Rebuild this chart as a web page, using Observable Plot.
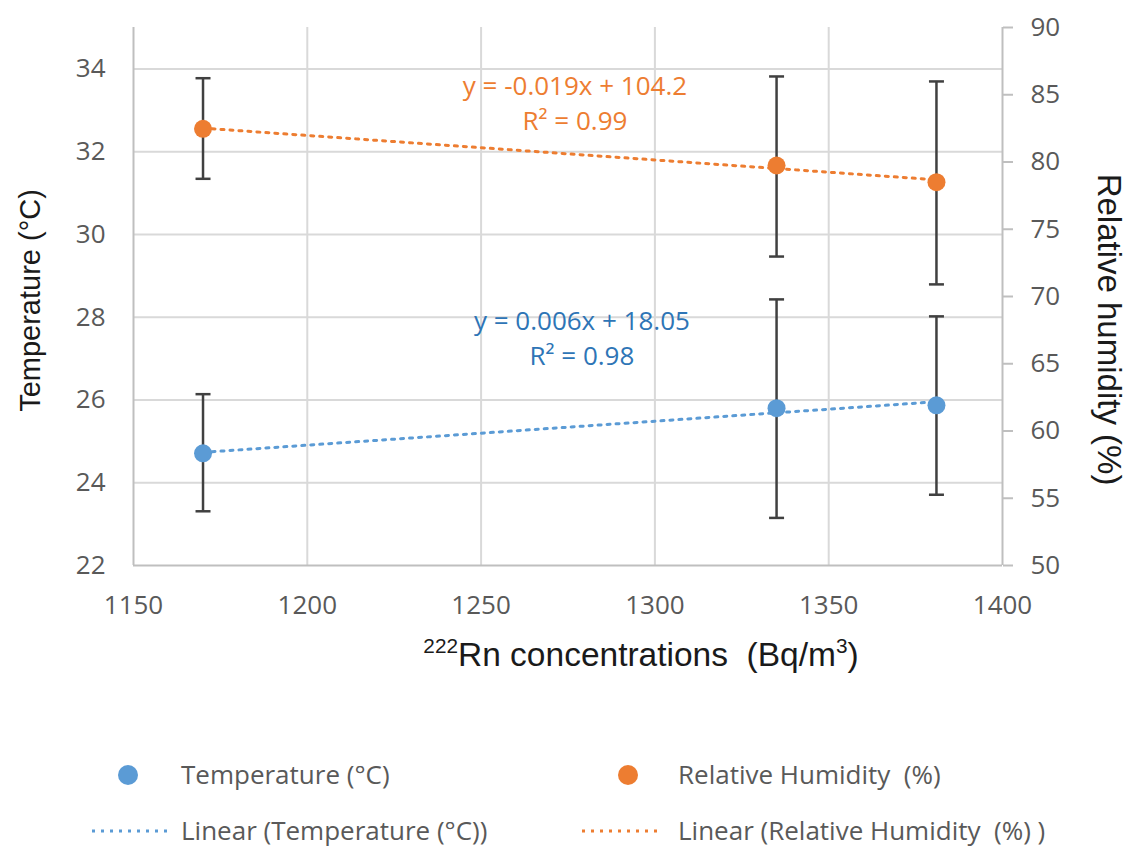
<!DOCTYPE html>
<html>
<head>
<meta charset="utf-8">
<script src="https://cdn.jsdelivr.net/npm/d3@7"></script>
<script src="https://cdn.jsdelivr.net/npm/@observablehq/plot@0.6"></script>
<style>
  html, body { margin: 0; padding: 0; background: #fff; }
  #wrap { position: relative; width: 1132px; height: 847px; overflow: hidden; }
  .leg { position: absolute; font-family: "Open Sans", sans-serif; font-size: 26px; color: #595959; line-height: 30px; white-space: pre; }
  .legsym { position: absolute; }
</style>
</head>
<body>
<div id="wrap"></div>
<script>
// ---- data ----
const rn      = [1170, 1335, 1381];          // 222Rn concentrations (Bq/m3)
const temp    = [24.71, 25.80, 25.87];       // Temperature (°C)
const tempLo  = [23.31, 23.15, 23.71];
const tempHi  = [26.14, 28.43, 28.02];
const rh      = [82.47, 79.74, 78.50];       // Relative humidity (%)
const rhLo    = [78.75, 72.97, 70.90];
const rhHi    = [86.23, 86.36, 85.99];

const xTicks  = [1150, 1200, 1250, 1300, 1350, 1400];
const tTicks  = [22, 24, 26, 28, 30, 32, 34];
const rhTicks = [50, 55, 60, 65, 70, 75, 80, 85, 90];

const tDomain  = [22, 35];
const rhDomain = [50, 90];
const xDomain  = [1150, 1400];

const eqRH = {x: 1277, y: 33.22, label: "y = -0.019x + 104.2\nR\u00b2 = 0.99"};
const eqT  = {x: 1279, y: 27.54, label: "y = 0.006x + 18.05\nR\u00b2 = 0.98"};

const BLUE = "#5b9bd5", ORANGE = "#ed7d31", ERR = "#404040", GRID = "#d9d9d9", AXIS = "#bfbfbf";

// map humidity onto temperature scale (secondary axis)
const toT = h => tDomain[0] + (h - rhDomain[0]) * (tDomain[1] - tDomain[0]) / (rhDomain[1] - rhDomain[0]);
const fromT = t => rhDomain[0] + (t - tDomain[0]) * (rhDomain[1] - rhDomain[0]) / (tDomain[1] - tDomain[0]);

const tData  = rn.map((x, i) => ({x, y: temp[i], lo: tempLo[i], hi: tempHi[i]}));
const rhData = rn.map((x, i) => ({x, y: toT(rh[i]), lo: toT(rhLo[i]), hi: toT(rhHi[i])}));
const errData = tData.concat(rhData);

const capSymbol = { draw(ctx) { ctx.moveTo(-7.5, 0); ctx.lineTo(7.5, 0); } };
const TITLE_FONT = "'Liberation Sans', Arial, sans-serif";

const chart = Plot.plot({
  width: 1132,
  height: 700,
  marginTop: 27,
  marginBottom: 135,
  marginLeft: 133,
  marginRight: 130,
  x: {domain: xDomain},
  y: {domain: tDomain},
  style: {fontFamily: "'Open Sans', sans-serif", fontSize: "26px", color: "#595959", background: "white", overflow: "visible"},
  marks: [
    Plot.gridX({ticks: xTicks.slice(1, -1), stroke: GRID, strokeOpacity: 1, strokeWidth: 2}),
    Plot.gridY({ticks: tTicks.slice(1), stroke: GRID, strokeOpacity: 1, strokeWidth: 2}),
    Plot.ruleX([xDomain[0]], {stroke: AXIS, strokeWidth: 2}),
    Plot.ruleX([xDomain[1]], {stroke: AXIS, strokeWidth: 2}),
    Plot.ruleY([tDomain[0]], {stroke: AXIS, strokeWidth: 2}),
    Plot.axisX({ticks: xTicks, tickFormat: d => String(d), tickSize: 0, tickPadding: 30, label: null, fill: "#595959", fontSize: 26}),
    Plot.axisY({ticks: tTicks, tickFormat: d => String(d), tickSize: 0, tickPadding: 28, label: null, fill: "#595959", fontSize: 26}),
    Plot.axisY({anchor: "right", ticks: rhTicks.map(toT), tickFormat: t => String(Math.round(fromT(t))),
                tickSize: 10, tickPadding: 18, label: null, stroke: AXIS, strokeWidth: 2, fill: "#595959", fontSize: 26}),
    // error bars
    Plot.ruleX(errData, {x: "x", y1: "lo", y2: "hi", stroke: ERR, strokeWidth: 2.5}),
    Plot.dot(errData, {x: "x", y: "lo", symbol: capSymbol, r: 5, stroke: ERR, strokeWidth: 2.5, fill: "none"}),
    Plot.dot(errData, {x: "x", y: "hi", symbol: capSymbol, r: 5, stroke: ERR, strokeWidth: 2.5, fill: "none"}),
    // trend lines
    Plot.linearRegressionY(tData, {x: "x", y: "y", ci: 0, stroke: BLUE, strokeWidth: 3, strokeDasharray: "3,6"}),
    Plot.linearRegressionY(rhData, {x: "x", y: "y", ci: 0, stroke: ORANGE, strokeWidth: 3, strokeDasharray: "3,6"}),
    // points
    Plot.dot(tData, {x: "x", y: "y", r: 9, fill: BLUE, stroke: "none"}),
    Plot.dot(rhData, {x: "x", y: "y", r: 9, fill: ORANGE, stroke: "none"}),
    // equations
    Plot.text([eqRH], {x: "x", y: "y", text: "label", fill: ORANGE, fontSize: 26, lineHeight: 1.37}),
    Plot.text([eqT], {x: "x", y: "y", text: "label", fill: "#2e75b6", fontSize: 26, lineHeight: 1.37}),
    // axis titles
    Plot.text(["Temperature (\u00b0C)"], {text: d => d, frameAnchor: "left", textAnchor: "middle", rotate: -90, dx: -103, dy: 4,
               fontFamily: TITLE_FONT, fontSize: 29, fill: "#1a1a1a"}),
    Plot.text(["Relative humidity (%)"], {text: d => d, frameAnchor: "right", textAnchor: "middle", rotate: 90, dx: 106, dy: 33,
               fontFamily: TITLE_FONT, fontSize: 33, fill: "#1a1a1a"}),
    Plot.text(["222Rn concentrations  (Bq/m3)"], {text: d => d, frameAnchor: "bottom", textAnchor: "middle", dx: 73, dy: 100,
               fontFamily: TITLE_FONT, fontSize: 33.5, fill: "#1a1a1a"})
  ]
});

// turn the "222" and "3" of the x title into real superscripts
d3.select(chart).selectAll("text")
  .filter(function() { return this.textContent === "222Rn concentrations  (Bq/m3)"; })
  .each(function() {
    const t = d3.select(this);
    t.text(null).style("white-space", "pre").attr("xml:space", "preserve");
    t.append("tspan").attr("font-size", "0.62em").attr("dy", "-0.62em").text("222");
    t.append("tspan").attr("dy", "0.385em").text("Rn concentrations  (Bq/m");
    t.append("tspan").attr("font-size", "0.62em").attr("dy", "-0.62em").text("3");
    t.append("tspan").attr("dy", "0.385em").text(")");
  });

const wrap = document.getElementById("wrap");
wrap.appendChild(chart);

// legend (HTML below the chart)
const legendItems = [
  {kind: "dot",  color: BLUE,   label: "Temperature (\u00b0C)",                 sx: 128, tx: 181, cy: 775},
  {kind: "dot",  color: ORANGE, label: "Relative Humidity  (%)",               sx: 628, tx: 678, cy: 775},
  {kind: "line", color: BLUE,   label: "Linear (Temperature (\u00b0C))",        sx: 92,  tx: 181, cy: 831},
  {kind: "line", color: ORANGE, label: "Linear (Relative Humidity  (%) )",     sx: 582, tx: 678, cy: 831}
];
for (const it of legendItems) {
  const svg = document.createElementNS("http://www.w3.org/2000/svg", "svg");
  svg.setAttribute("class", "legsym");
  if (it.kind === "dot") {
    svg.setAttribute("width", 24); svg.setAttribute("height", 24);
    svg.style.left = (it.sx - 12) + "px"; svg.style.top = (it.cy - 12) + "px";
    svg.innerHTML = `<circle cx="12" cy="12" r="10" fill="${it.color}"/>`;
  } else {
    svg.setAttribute("width", 80); svg.setAttribute("height", 8);
    svg.style.left = it.sx + "px"; svg.style.top = (it.cy - 4) + "px";
    svg.innerHTML = `<line x1="0" x2="78" y1="4" y2="4" stroke="${it.color}" stroke-width="3" stroke-dasharray="3,6"/>`;
  }
  wrap.appendChild(svg);
  const d = document.createElement("div");
  d.className = "leg";
  d.textContent = it.label;
  d.style.left = it.tx + "px";
  d.style.top = (it.cy - 16) + "px";
  wrap.appendChild(d);
}
</script>
</body>
</html>
